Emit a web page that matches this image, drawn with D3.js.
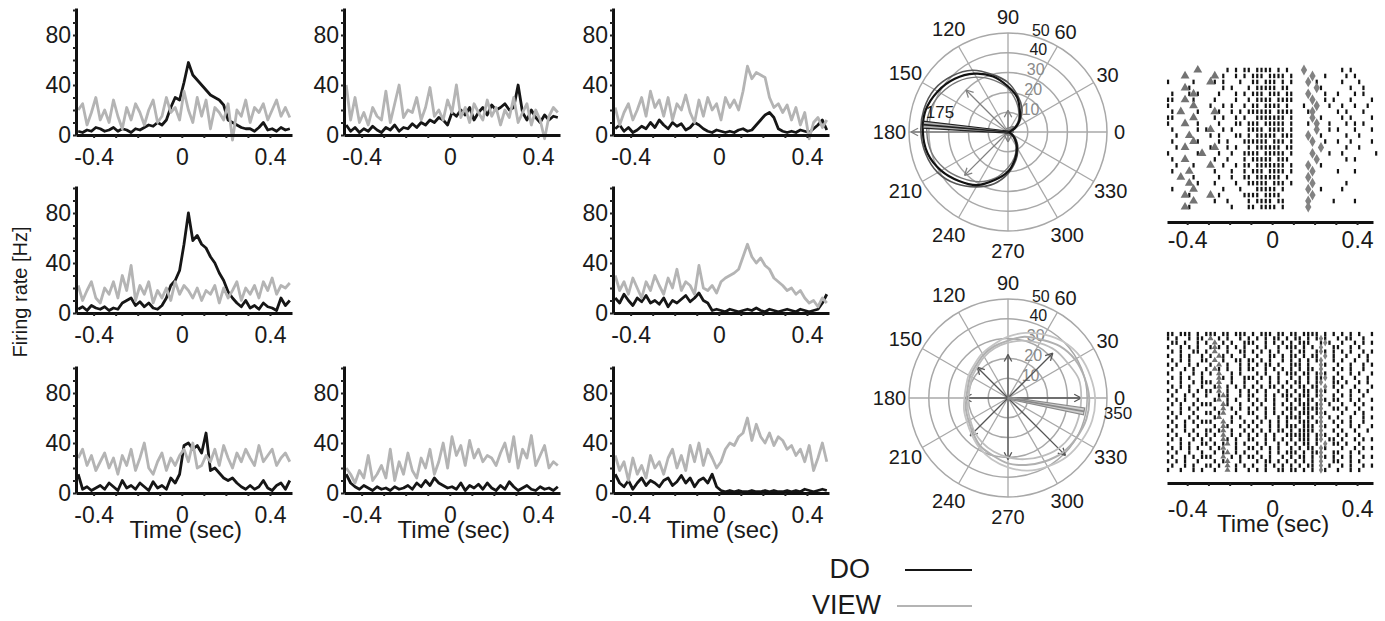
<!DOCTYPE html>
<html><head><meta charset="utf-8">
<script src="https://cdn.jsdelivr.net/npm/d3@7"></script>
<style>body{margin:0;background:#fff}svg{display:block}</style>
</head><body><svg id="chart" width="1385" height="621"></svg>
<script>
// ---------- DATA ----------
const binStart = -0.47, binStep = 0.02;           // PSTH bin times
const timeDomain = [-0.48, 0.5];
const xTickValues = [-0.4, 0, 0.4];
const yTickValues = [0, 40, 80];

const r1c1Do   = [3,2,4,3,6,5,3,4,6,3, 5,4,2,5,4,6,8,7,10,8, 12,22,30,28,42,58,48,44,40,36, 32,30,28,24,12,10,8,6,5,5, 3,6,10,4,5,3,6,4,5];
const r1c1View = [20,25,8,18,30,12,20,10,28,15, 5,22,12,25,18,8,20,28,10,15, 30,18,22,12,35,20,10,30,15,28, 5,22,18,12,25,-4,20,15,28,10, 22,18,25,12,20,28,15,22,14];
const r1c2Do   = [8,3,6,2,5,3,7,4,2,6, 4,8,3,6,5,9,6,10,8,12, 10,14,12,8,18,15,20,16,22,12, 18,22,16,24,20,22,25,20,22,40, 18,12,20,14,10,16,12,15,14];
const r1c2View = [40,12,30,10,18,8,22,15,12,35, 10,25,40,14,20,18,30,12,22,38, 15,20,12,28,18,40,14,22,10,25, 18,12,28,15,22,8,20,14,30,10, 18,25,8,20,12,-3,15,22,18];
const r1c3Do   = [5,8,3,6,2,4,7,5,10,6, 12,8,5,10,7,9,4,6,10,8, 5,3,2,4,3,2,3,2,4,5, 3,4,8,12,16,18,14,5,3,2, 3,2,4,3,2,5,8,12,4];
const r1c3View = [22,8,18,25,12,20,30,15,35,22, 28,15,30,12,25,20,32,18,10,28, 15,30,20,25,12,30,22,28,20,35, 55,45,50,48,46,30,22,25,18,24, 12,22,8,18,-3,10,14,6,12];
const r2c1Do   = [3,5,2,6,4,3,5,2,4,3, 8,10,12,6,9,5,8,4,3,6, 12,22,26,34,55,80,58,62,55,52, 45,40,32,26,17,12,8,5,10,4, 6,3,8,5,4,2,12,6,10];
const r2c1View = [22,10,18,25,12,8,20,15,25,12, 30,18,38,10,22,15,25,8,18,12, 20,10,25,15,22,18,12,20,10,18, 15,22,8,20,12,18,25,10,20,15, 22,12,25,18,28,15,22,20,24];
const r2c3Do   = [12,8,15,10,6,12,9,14,8,10, 7,12,5,10,8,11,14,9,12,16, 10,8,2,3,2,1,3,2,1,2, 3,2,4,2,1,3,2,1,2,3, 2,1,3,2,1,2,3,8,15];
const r2c3View = [30,18,25,15,28,20,12,25,18,30, 22,15,28,20,35,18,25,22,15,38, 20,18,22,16,25,28,30,32,35,45, 55,45,40,44,38,35,28,25,22,18, 20,15,18,12,8,10,5,12,8];
const r3c1Do   = [15,3,5,2,4,6,3,8,5,2, 10,4,6,3,8,5,2,9,4,6, 3,12,8,15,38,40,35,38,32,48, 18,20,16,12,10,12,8,5,3,6, 3,5,10,4,2,6,8,3,10];
const r3c1View = [28,35,22,30,18,25,32,20,28,15, 30,22,35,18,28,40,20,15,25,32, 18,28,22,30,35,25,40,20,22,30, 25,35,22,38,28,20,32,25,35,28, 22,38,25,30,35,22,28,32,25];
const r3c2Do   = [15,8,5,3,6,4,2,5,3,4, 2,5,3,4,6,3,8,5,10,6, 12,8,6,4,5,3,8,2,6,4, 7,3,8,4,2,6,3,9,5,2, 4,6,3,2,5,3,4,2,5];
const r3c2View = [20,15,8,18,12,30,10,15,22,12, 35,10,25,15,32,18,12,28,20,35, 15,25,40,20,45,30,38,22,42,28, 35,25,30,28,22,32,40,25,45,20, 35,28,46,22,30,38,20,25,22];
const r3c3Do   = [15,8,5,10,3,8,12,6,10,8, 5,10,12,6,9,14,8,12,5,10, 12,8,15,5,2,1,2,1,2,1, 1,2,1,1,2,1,2,1,1,2, 1,2,1,3,2,1,2,3,2];
const r3c3View = [30,18,25,10,28,15,22,12,30,20, 25,15,28,35,20,30,18,38,25,40, 22,35,28,20,25,35,40,38,45,48, 60,42,55,45,40,48,38,45,42,35, 38,30,35,25,38,18,28,40,25];

// polar tuning (angles every 15 deg, Hz)
const tuneAngles = [0,15,30,45,60,75,90,105,120,135,150,165,180,195,210,225,240,255,270,285,300,315,330,345];
const tuneTopA = [0,1,4,8,12,18,23,29,34,38,41,43,43,42,39,35,31,25,20,14,9,5,2,0];
const tuneTopB = [1,2,5,9,14,19,25,30,36,40,43,44,44,43,41,37,32,27,21,15,10,6,3,1];
const tuneTopC = [0,1,3,7,11,16,22,27,32,36,39,41,41,40,37,33,29,24,18,13,8,4,1,0];
const tuneBotA = [41,40,39,37,34,32,29,27,25,23,22,21,21,22,23,25,28,30,33,35,37,39,40,41];
const tuneBotB = [37,37,35,34,32,30,28,26,24,22,21,20,20,21,22,24,26,28,30,32,34,36,37,37];
const tuneBotC = [44,43,42,40,37,34,31,28,26,24,23,22,22,23,24,26,29,32,35,38,40,42,43,44];
const arrowAngles = [0,45,90,135,180,225,270,315];
const topArrows = [3,4,11,30,49,31,5,3];
const botArrows = [37,32,22,22,22,27,31,41];
const topPref = {angle:175, value:43, label:"175"};
const botPref = {angle:350, value:39, label:"350"};
const polarAngleLabels = [0,30,60,90,120,150,180,210,240,270,300,330];
const polarRings = [10,20,30,40,50];

// rasters: one string per trial, 20 ms bins from -0.5 s; | spike, A triangle event, D diamond event
const rasterStart = -0.5, rasterBin = 0.02;
const rasterDomain = [-0.495, 0.475];
const rasterTop = [
".......A.. ....|.|.|| .||||.|.|. ..D....... .|.|.....",
"....A..... .A.|..|.|. |||.||||.| ....D..|.. ..|.|....",
"|.....|... A|.|...|.. ||.|||.|.| ...D.|.... .|...|...",
"....A|.... ...|.|...| .|||||.||. .....D|... ...|..|..",
".|...|A|.. ..|...|.|. |||.|||.|| ...D...|.. |...|.|..",
"||..A.|... .|....|..| .||||.|||| ....D..|.| ...|....|",
"|.....A... |..|.|..|. ||.||||.|. ..|..D..|. .|..|..|.",
".|.A...|.. .A|..|.|.| |||||.|||| ...|D..... |.|...|..",
"||....A... .|.|..|.|. .|||||||.| ....D.|... .|.|....|",
"|...A..|.. ..|...||.| ||.|||||.| ...|.D..|. ..|.|.|..",
".|.....|.| A..|.|...| |||.||||.| .....D..|. |...|...|",
"..|..A.... |.|...||.| .|||||.||| ...D..|... ..|..|...",
".|....A|.. ..|.|...|| ||||.|||.| ....D..|.. |..|....|",
"..|.A..... |A..|.|..| .||||||.|| ......D... ..|..|...",
"|......|A. ..|..|..|| ||.|||||.| ....D...|. .|.......|",
".|..A..... .|..|...|. |||||.|||. .....D.... ..|.|....",
"..|...|... A..|..|.|| .|||||||.| ...D..|... .........",
".|...A.... .|...|..|. |||.||||.| ....D..... |...|....",
"...A..|... ..|..|..|| .||||||.|. ...D...... .........",
".....A.|.. .|....|..| ||||.|||.| ....D..... ..|......",
".|....A... ...|...|.. .|||||.|.. ...D..|... .|.......",
"....A|.... A.|.....|| ||.||||... ....D..... .........",
"......A... .|..|....| .||||.||.. ...D.....| ....|....",
"....A|.... .....|...| |.||||.|.. ...D...... ........."
];
const rasterBottom = [
"||.|||.|.| ||.||.|||. |.|||.||.| |.||||.|.| .|.|.|..|",
"|.|..|.||. A.|.|..|.| .|.|.||.|. ||.|.|D|.. |.||..|..",
".||.|..|.| .A.|.|..|| |..|.|.|.| .|||..|D|. .|..|.|.|",
"|..|.|.|.. |A|.|.|.|. .|.|..|.|| |.|.|.D..| |..|.|...",
".|.|..||.| .A..|..||. |.|.|.|..| .||..|D|.| .|.|..|.|",
"|..|.|..|. |.A|.|..|. .|..||.|.| |.|.||.D.| ..|..|.|.",
".|.|.|..|| .A.|..||.| |.|.|..|.| .|.|.|D..| .|..|..|.",
"|.|..|.|.. |.A.|..|.| .|.||.|..| ||.|..D|.. |..|..|.|",
".|..|.|..| .A|.|..|.| |..|.|.|.| .|.||.D..| .|.|..|..",
"|..|..|.|. |.A..|.|.. .|.|..|.|| |.||.|D|.. |..|.|..|",
".|.|.|..|. ..A|.|..|| |.|.|.|..| .|.|.||D.| .|..|..|.",
"|..|..|.|| |.A..|..|. .|..|.|.|. ||.|.|D..| |.|..|.|.",
".|.|.|..|. .|A.|.|.|. |.|.||.|.| .||.||.D.| .|..|...|",
"|.|..|.|.| |.A.|..|.| .|.|..|.|. |.||.|D|.. |..|.|.|.",
".|..|.|..| ..|A|..|.| |..|.|.||| .|||.|D..| .|.|..|..",
"|.|.|..|.. .|A.|.|..| .|.|.|..|. ||.||.D|.| |..|.|..|",
".|.|..|.|| |..A|..|.. |.|..|.|.| .|||.|D.|. .|..|.|..",
"|..|.|.|.. .|.A.|.|.| .|.|.|..|| |.||||D..| |.|..|..|",
".|.|..|..| |.|A..|..| |..|.|.|.| .|||.|D|.. .|..|.|..",
"|.|..|.|.. .|A..|.|.. .|.|..|.|| ||.||.D.|. |..|..|.|",
".|..|.|.|| |..A.|..|. |.|.|.|.|. .|||.|D..| .|.|..|..",
"|.|.|..|.. .|.A|..|.| .|..|.|.|| |.|||.D|.. |..|.|..|",
".|..|.|..| |.|A.|..|. |.|.|.||.| .||||.D..| .|..|..|.",
"|.|..|.|.| .|.A.|.|.| .|.|.|..|| ||||.|D|.. |.|..|...",
".|.|..|.|. |..A|.|..| |..|.|.|.| .|||.|D.|| .|..|.|.|",
"|..|.|..|| .|.|A.|.|. .|.|..|.|. |.||.|.D.| |.|..|...",
".|.|.|.|.. |.|A..|..| |.|.|.|..| .|.||.D|.. .|..|.|.|",
"|.|..|..|. .|.|A.|.|. .|..|.|.|| |.|.||D..| |..|.|...",
".|..|.|.|| |..A.|.|.| |.|.|..|.| .||.|.D|.| .|.|..|.|",
"|.|.|..|.. .|.|A..|.. .|.||.|.|. |.|.|.D..| |..|.|...",
".|..|.|..| |.|.A.|.|. |..|.|.|.| .|.||.D.|. .|.|..|.|",
"|..|..|.|. .|..A.|..| .|.|..||.| |.|.|.D|.. |..|.|..."
];
const rasterTicks = [-0.4, 0, 0.4];
const legendItems = ["DO", "VIEW"];

// ---------- DRAWING ----------
const FONT = "'Liberation Sans', Arial, Helvetica, sans-serif";
const svg = d3.select("#chart").attr("font-family", FONT);
const fmt = d => String(d);

const colX = [76, 344, 613];
const rowBase = [135, 313, 493];
const panelW = 216, pxPerHz = 1.25, yTop = 101.6;
const panels = [
  {row:0,col:0,dov:r1c1Do,view:r1c1View},
  {row:0,col:1,dov:r1c2Do,view:r1c2View},
  {row:0,col:2,dov:r1c3Do,view:r1c3View},
  {row:1,col:0,dov:r2c1Do,view:r2c1View},
  {row:1,col:2,dov:r2c3Do,view:r2c3View},
  {row:2,col:0,dov:r3c1Do,view:r3c1View,time:true},
  {row:2,col:1,dov:r3c2Do,view:r3c2View,time:true},
  {row:2,col:2,dov:r3c3Do,view:r3c3View,time:true}
];
const DO_COLOR = "#161616", VIEW_COLOR = "#b4b4b4";

panels.forEach(p => {
  const x0 = colX[p.col], base = rowBase[p.row];
  const x = d3.scaleLinear().domain(timeDomain).range([x0, x0 + panelW]);
  const y = d3.scaleLinear().domain([0, yTop]).range([base, base - yTop * pxPerHz]);
  const g = svg.append("g");
  const line = d3.line().x((d, i) => x(binStart + i * binStep)).y(d => y(d));
  g.append("path").datum(p.dov).attr("d", line).attr("fill", "none")
    .attr("stroke", DO_COLOR).attr("stroke-width", 2.8).attr("stroke-linejoin", "round");
  g.append("path").datum(p.view).attr("d", line).attr("fill", "none")
    .attr("stroke", VIEW_COLOR).attr("stroke-width", 2.8).attr("stroke-linejoin", "round");

  // x axis
  const xa = g.append("g").attr("transform", `translate(0,${base})`)
    .call(d3.axisBottom(x).tickValues(d3.range(-0.4, 0.45, 0.1)).tickSize(3).tickSizeOuter(0).tickFormat(""));
  xa.select(".domain").attr("stroke", "#111").attr("stroke-width", 3);
  xa.selectAll(".tick line").attr("stroke", "#222").attr("stroke-width", 2);
  const xl = g.append("g").attr("transform", `translate(0,${base})`)
    .call(d3.axisBottom(x).tickValues(xTickValues).tickSize(0).tickPadding(0).tickFormat(fmt));
  xl.select(".domain").remove();
  xl.selectAll("text").attr("font-size", 23).attr("dy", null).attr("y", 30).attr("fill", "#1a1a1a").attr("font-family", FONT);

  // y axis
  const ya = g.append("g").attr("transform", `translate(${x0},0)`)
    .call(d3.axisLeft(y).tickValues(d3.range(0, 101, 10)).tickSize(3).tickSizeOuter(0).tickFormat(""));
  ya.select(".domain").attr("stroke", "#111").attr("stroke-width", 3);
  ya.selectAll(".tick line").attr("stroke", "#222").attr("stroke-width", 2);
  const yl = g.append("g").attr("transform", `translate(${x0},0)`)
    .call(d3.axisLeft(y).tickValues(yTickValues).tickSize(0).tickPadding(5).tickFormat(fmt));
  yl.select(".domain").remove();
  yl.selectAll("text").attr("font-size", 23).attr("fill", "#1a1a1a").attr("font-family", FONT);

  if (p.time) {
    g.append("text").attr("x", x(0) + 4).attr("y", base + 45).attr("text-anchor", "middle")
      .attr("font-size", 24).attr("fill", "#1a1a1a").text("Time (sec)");
  }
});

svg.append("text").attr("transform", "translate(27,292) rotate(-90)").attr("text-anchor", "middle")
  .attr("font-size", 20).attr("fill", "#1a1a1a").text("Firing rate [Hz]");

// ---------- POLAR ----------
function drawPolar(cx, cy, curves, arrows, arrowColor, pref, prefFill, prefStroke, labelOffset) {
  const g = svg.append("g").attr("transform", `translate(${cx},${cy})`);
  const r = d3.scaleLinear().domain([0, 50]).range([0, 99]);
  const rad = a => a * Math.PI / 180;
  g.selectAll("circle.ring").data(polarRings).join("circle").attr("r", d => r(d))
    .attr("fill", "none").attr("stroke", "#a8a8a8").attr("stroke-width", 1.5);
  g.selectAll("line.spoke").data(polarAngleLabels).join("line")
    .attr("x1", 0).attr("y1", 0)
    .attr("x2", d => r(50) * Math.cos(rad(d))).attr("y2", d => -r(50) * Math.sin(rad(d)))
    .attr("stroke", "#a8a8a8").attr("stroke-width", 1.3);
  g.selectAll("text.ang").data(polarAngleLabels).join("text")
    .attr("x", d => (108 + String(d).length * 3.5) * Math.cos(rad(d)))
    .attr("y", d => -(108 + String(d).length * 3.5) * Math.sin(rad(d)))
    .attr("text-anchor", "middle").attr("dominant-baseline", "central")
    .attr("font-size", 20).attr("fill", "#1a1a1a").text(d => d);
  g.selectAll("text.rl").data(polarRings).join("text")
    .attr("x", d => 20 + r(d) * 0.13).attr("y", d => -r(d) - 3)
    .attr("text-anchor", "middle").attr("dominant-baseline", "central")
    .attr("font-size", 16).attr("fill", d => d <= 30 ? "#8a8a8a" : "#1a1a1a").text(d => d);
  arrowAngles.forEach((a, i) => {
    const len = r(arrows[i]);
    const tx = len * Math.cos(rad(a)), ty = -len * Math.sin(rad(a));
    g.append("line").attr("x1", 0).attr("y1", 0).attr("x2", tx).attr("y2", ty)
      .attr("stroke", arrowColor).attr("stroke-width", 1.3);
    [-28, 28].forEach(off => {
      const b = rad(a + 180 + off);
      g.append("line").attr("x1", tx).attr("y1", ty)
        .attr("x2", tx + 8 * Math.cos(b)).attr("y2", ty - 8 * Math.sin(b))
        .attr("stroke", arrowColor).attr("stroke-width", 1.3);
    });
  });
  const lr = d3.lineRadial().angle((d, i) => Math.PI / 2 - rad(tuneAngles[i])).radius(d => r(d))
    .curve(d3.curveCardinalClosed);
  curves.forEach(c => {
    g.append("path").datum(c.data).attr("d", lr).attr("fill", "none")
      .attr("stroke", c.color).attr("stroke-width", c.width);
  });
  const pl = r(pref.value), pa = rad(pref.angle);
  const ux = Math.cos(pa), uy = -Math.sin(pa), px = -uy, py = ux;
  const pts = [[px * 1, py * 1], [ux * pl + px * 3.5, uy * pl + py * 3.5], [ux * pl - px * 3.5, uy * pl - py * 3.5], [-px * 1, -py * 1]];
  g.append("path").attr("d", d3.line()(pts) + "Z").attr("fill", prefFill).attr("stroke", prefStroke).attr("stroke-width", 1.2);
  g.append("line").attr("x1", 0).attr("y1", 0).attr("x2", ux * pl).attr("y2", uy * pl)
    .attr("stroke", prefStroke).attr("stroke-width", 1.6);
  g.append("text").attr("x", labelOffset[0]).attr("y", labelOffset[1])
    .attr("text-anchor", "middle").attr("dominant-baseline", "central")
    .attr("font-size", 17).attr("fill", "#1a1a1a").text(pref.label);
}

drawPolar(1008, 132, [
  {data: tuneTopB, color: "#555", width: 1.6},
  {data: tuneTopC, color: "#777", width: 1.4},
  {data: tuneTopA, color: "#111", width: 2.2}
], topArrows, "#808080", topPref, "#b0b0b0", "#222", [-68, -20]);

drawPolar(1008, 398, [
  {data: tuneBotC, color: "#c4c4c4", width: 1.8},
  {data: tuneBotB, color: "#bdbdbd", width: 1.8},
  {data: tuneBotA, color: "#b0b0b0", width: 2}
], botArrows, "#555", botPref, "#cfcfcf", "#8a8a8a", [110, 15]);

// ---------- RASTERS ----------
function drawRaster(rows, y0, y1, axisY, tickH, tickW, markSize, labelY, withTime) {
  const x = d3.scaleLinear().domain(rasterDomain).range([1167, 1373]);
  const y = d3.scalePoint().domain(d3.range(rows.length)).range([y0, y1]);
  const events = [];
  rows.forEach((row, ri) => {
    const s = row.replace(/ /g, "");
    for (let i = 0; i < s.length; i++) {
      if (s[i] !== ".") events.push({t: rasterStart + (i + 0.5) * rasterBin, row: ri, kind: s[i]});
    }
  });
  const g = svg.append("g");
  g.selectAll("rect").data(events.filter(e => e.kind === "|")).join("rect")
    .attr("x", d => x(d.t) - tickW / 2).attr("y", d => y(d.row) - tickH / 2)
    .attr("width", tickW).attr("height", tickH).attr("fill", "#141414");
  g.selectAll("path.tri").data(events.filter(e => e.kind === "A")).join("path")
    .attr("transform", d => `translate(${x(d.t)},${y(d.row)})`)
    .attr("d", d3.symbol(d3.symbolTriangle).size(markSize)).attr("fill", "#737373");
  g.selectAll("path.dia").data(events.filter(e => e.kind === "D")).join("path")
    .attr("transform", d => `translate(${x(d.t)},${y(d.row)})`)
    .attr("d", d3.symbol(d3.symbolDiamond).size(markSize)).attr("fill", "#828282");
  const xa = g.append("g").attr("transform", `translate(0,${axisY})`)
    .call(d3.axisBottom(x).tickValues(d3.range(-0.4, 0.45, 0.1)).tickSize(3).tickSizeOuter(0).tickFormat(""));
  xa.select(".domain").attr("stroke", "#111").attr("stroke-width", 3);
  xa.selectAll(".tick line").attr("stroke", "#222").attr("stroke-width", 2);
  const xl = g.append("g").attr("transform", `translate(0,${axisY})`)
    .call(d3.axisBottom(x).tickValues(rasterTicks).tickSize(0).tickFormat(fmt));
  xl.select(".domain").remove();
  xl.selectAll("text").attr("font-size", 23).attr("dy", null).attr("y", labelY).attr("fill", "#1a1a1a").attr("font-family", FONT);
  if (withTime) {
    g.append("text").attr("x", x(0) + 1).attr("y", axisY + 49).attr("text-anchor", "middle")
      .attr("font-size", 24).attr("fill", "#1a1a1a").text("Time (sec)");
  }
}
drawRaster(rasterTop, 70, 207, 222, 4.5, 2.2, 34, 26, false);
drawRaster(rasterBottom, 334, 470, 483, 4.2, 2.3, 16, 34, true);

// ---------- LEGEND ----------
const legend = svg.append("g");
const legendRows = [
  {label: legendItems[0], ty: 578, tx: 870, lx1: 905, ly: 570, color: DO_COLOR},
  {label: legendItems[1], ty: 614, tx: 881, lx1: 897, ly: 606, color: VIEW_COLOR}
];
legendRows.forEach(d => {
  legend.append("text").attr("x", d.tx).attr("y", d.ty).attr("text-anchor", "end")
    .attr("font-size", 27).attr("fill", "#1a1a1a").text(d.label);
  legend.append("line").attr("x1", d.lx1).attr("x2", 972).attr("y1", d.ly).attr("y2", d.ly)
    .attr("stroke", d.color).attr("stroke-width", 2.2);
});
</script></body></html>
